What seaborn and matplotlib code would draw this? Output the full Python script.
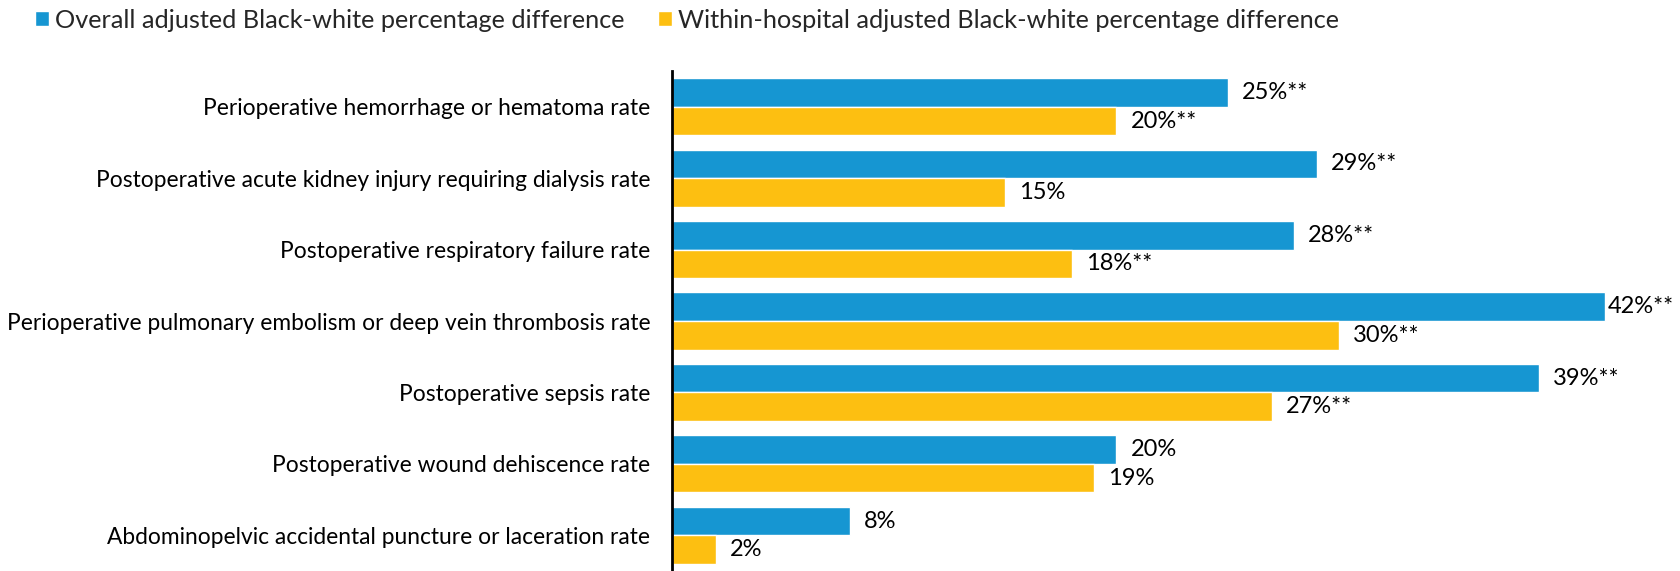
import pandas as pd
import matplotlib.pyplot as plt
import seaborn as sns

# data
measures = [
    "Perioperative hemorrhage or hematoma rate",
    "Postoperative acute kidney injury requiring dialysis rate",
    "Postoperative respiratory failure rate",
    "Perioperative pulmonary embolism or deep vein thrombosis rate",
    "Postoperative sepsis rate",
    "Postoperative wound dehiscence rate",
    "Abdominopelvic accidental puncture or laceration rate",
]
overall = [25, 29, 28, 42, 39, 20, 8]
within = [20, 15, 18, 30, 27, 19, 2]
overall_sig = ["**", "**", "**", "**", "**", "", ""]
within_sig = ["**", "", "**", "**", "**", "", ""]

series_names = [
    "Overall adjusted Black-white percentage difference",
    "Within-hospital adjusted Black-white percentage difference",
]

df = pd.DataFrame({
    "measure": measures * 2,
    "value": overall + within,
    "series": [series_names[0]] * len(measures) + [series_names[1]] * len(measures),
})

sns.set_style("white")
plt.rcParams["font.family"] = ["Lato", "DejaVu Sans"]

fig = plt.figure(figsize=(16.81, 5.71), dpi=100)
ax = fig.add_axes([672 / 1681, 0.0, 1 - 672 / 1681, 1 - 71 / 571])

sns.barplot(data=df, y="measure", x="value", hue="series", orient="h",
            palette=["#1696d2", "#fdbf11"], width=0.8, saturation=1,
            ax=ax, legend=True)

ax.set_xlim(0, 45.4)
ax.set_ylim(6.5, -0.5)
ax.set_xlabel("")
ax.set_ylabel("")
ax.set_xticks([])
ax.tick_params(axis="y", length=0, pad=15.5, labelsize=16.4, labelcolor="#000000")
for s in ["top", "right", "bottom"]:
    ax.spines[s].set_visible(False)
ax.spines["left"].set_color("black")
ax.spines["left"].set_linewidth(2)

for cont, vals, sig in zip(ax.containers, [overall, within], [overall_sig, within_sig]):
    texts = ax.bar_label(cont, labels=[f"{v}%{s}" for v, s in zip(vals, sig)],
                         padding=10, fontsize=17, color="black")
    for t, v in zip(texts, vals):
        if v == 42:
            t.xyann = (2, t.xyann[1])

handles, labels = ax.get_legend_handles_labels()
ax.legend_.remove()
fig.legend(handles, labels, loc="center left", bbox_to_anchor=(35 / 1681, 1 - 20 / 571),
           ncol=2, frameon=False, fontsize=18.2, handlelength=0.55,
           handleheight=0.55, handletextpad=0.24, columnspacing=1.34,
           borderaxespad=0, borderpad=0)

fig.savefig("out.png", dpi=100)
